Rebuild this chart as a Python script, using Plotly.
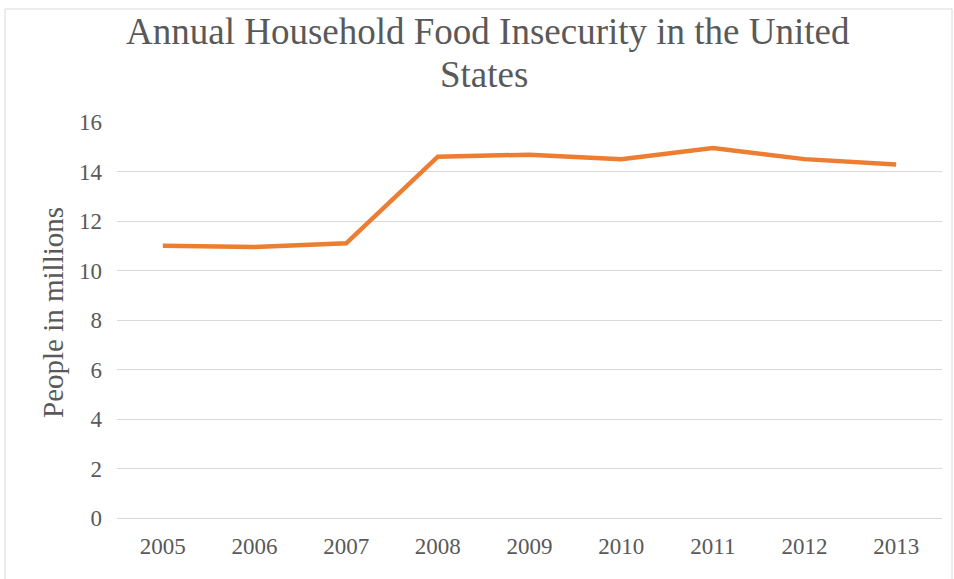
import plotly.graph_objects as go

years = ["2005", "2006", "2007", "2008", "2009", "2010", "2011", "2012", "2013"]
people_millions = [11.0, 10.95, 11.1, 14.6, 14.68, 14.5, 14.95, 14.5, 14.28]
y_ticks = [0, 2, 4, 6, 8, 10, 12, 14, 16]
title_lines = ["Annual Household Food Insecurity in the United", "States"]
y_title = "People in millions"

W, H = 954, 579
ml, mr, mt, mb = 117, 12, 122, 61
pw = W - ml - mr
ph = H - mt - mb


def px_x(x):
    return (x - ml) / pw


def px_y(y):
    return (H - mb - y) / ph


SERIF = "Liberation Serif, Times New Roman, serif"
GREY = "#595959"

fig = go.Figure()
fig.add_trace(go.Scatter(
    x=years, y=people_millions, mode="lines",
    line=dict(color="#ED7D31", width=4.5),
    hoverinfo="x+y",
))

# outer chart border
fig.add_shape(type="rect", xref="paper", yref="paper",
              x0=px_x(5), x1=px_x(952), y0=px_y(H + 5), y1=px_y(9),
              line=dict(color="#D9D9D9", width=1), fillcolor="rgba(0,0,0,0)",
              layer="below")

# title (two lines, Excel-like spacing)
fig.add_annotation(text=title_lines[0], xref="paper", yref="paper",
                   x=px_x(488), y=px_y(32), xanchor="center", yanchor="middle",
                   showarrow=False, font=dict(family=SERIF, size=37, color=GREY))
fig.add_annotation(text=title_lines[1], xref="paper", yref="paper",
                   x=px_x(484), y=px_y(74), xanchor="center", yanchor="middle",
                   showarrow=False, font=dict(family=SERIF, size=37, color=GREY))

# y-axis title
fig.add_annotation(text=y_title, xref="paper", yref="paper",
                   x=px_x(53), y=px_y(313), xanchor="center", yanchor="middle",
                   textangle=-90, showarrow=False,
                   font=dict(family=SERIF, size=29, color=GREY))

fig.update_layout(
    width=W, height=H,
    margin=dict(l=ml, r=mr, t=mt, b=mb),
    paper_bgcolor="white", plot_bgcolor="white",
    showlegend=False,
    font=dict(family=SERIF, color=GREY),
    xaxis=dict(
        type="category", range=[-0.5, 8.5],
        showgrid=False, showline=False, zeroline=False,
        ticks="", tickfont=dict(family=SERIF, size=23, color=GREY),
        ticklabelstandoff=12,
    ),
    yaxis=dict(
        range=[0, 16], tickvals=y_ticks,
        showgrid=True, gridcolor="#D9D9D9", gridwidth=1,
        zeroline=True, zerolinecolor="#D9D9D9", zerolinewidth=1,
        showline=False, ticks="",
        tickfont=dict(family=SERIF, size=23, color=GREY),
        ticklabelstandoff=14,
    ),
)

fig.write_html("out.html")
